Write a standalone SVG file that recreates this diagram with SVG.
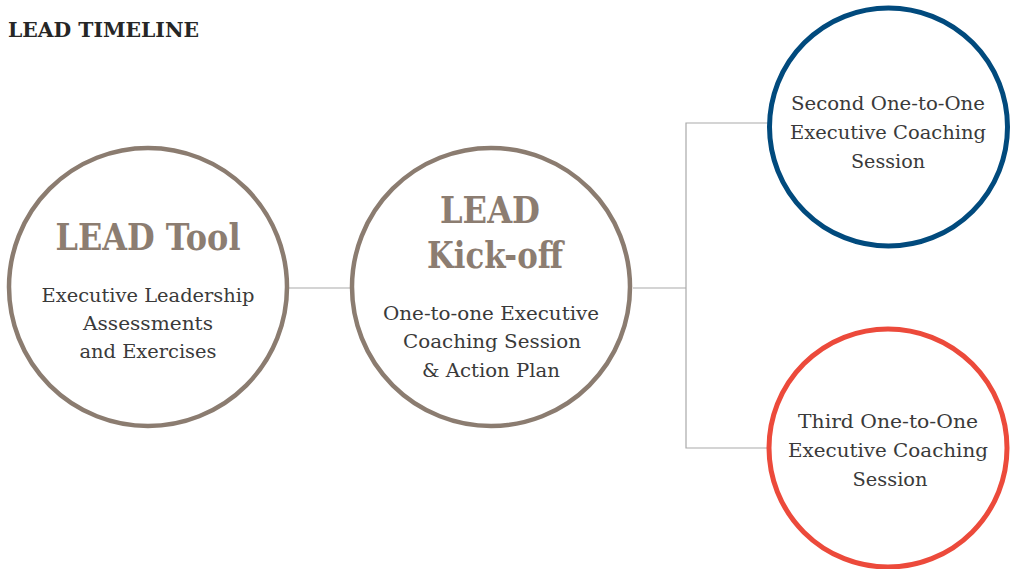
<svg xmlns="http://www.w3.org/2000/svg" width="1014" height="569" viewBox="0 0 1014 569">
  <style>
    .ring { fill: #ffffff; stroke-width: 4.5; }
    .brown { stroke: #8b7c70; }
    .blue { stroke: #014a7d; stroke-width: 5; }
    .red { stroke: #ec4a3b; stroke-width: 5; }
    .wire { fill: none; stroke: #a9a9a9; stroke-width: 1.2; }
    .head { font-family: "DejaVu Serif", "Liberation Serif", serif; font-weight: bold; font-size: 37px; fill: #8c7d71; text-anchor: middle; }
    .body { font-family: "DejaVu Serif", "Liberation Serif", serif; font-size: 18px; fill: #3a3a3a; text-anchor: middle; }
    .title { font-family: "DejaVu Serif", "Liberation Serif", serif; font-weight: bold; font-size: 20.5px; fill: #262626; }
  </style>

  <rect width="1014" height="569" fill="#ffffff"/>

  <text class="title" x="8" y="37" textLength="191" lengthAdjust="spacingAndGlyphs">LEAD TIMELINE</text>

  <!-- connectors -->
  <g id="connectors">
    <line class="wire" x1="289" y1="288" x2="350" y2="288"/>
    <line class="wire" x1="633" y1="288" x2="686" y2="288"/>
    <polyline class="wire" points="768,123 686,123 686,448 768,448"/>
  </g>

  <g id="lead-tool">
    <circle class="ring brown" cx="148" cy="287" r="139"/>
    <text class="head" x="148" y="250" textLength="185" lengthAdjust="spacingAndGlyphs">LEAD Tool</text>
    <text class="body" x="148" y="302" textLength="213" lengthAdjust="spacingAndGlyphs">Executive Leadership</text>
    <text class="body" x="148" y="330" textLength="130" lengthAdjust="spacingAndGlyphs">Assessments</text>
    <text class="body" x="148" y="358" textLength="137" lengthAdjust="spacingAndGlyphs">and Exercises</text>
  </g>

  <g id="lead-kickoff">
    <circle class="ring brown" cx="491" cy="287" r="139"/>
    <text class="head" x="490" y="223" textLength="100" lengthAdjust="spacingAndGlyphs">LEAD</text>
    <text class="head" x="495" y="268" textLength="136" lengthAdjust="spacingAndGlyphs">Kick-off</text>
    <text class="body" x="491" y="320" textLength="216" lengthAdjust="spacingAndGlyphs">One-to-one Executive</text>
    <text class="body" x="492" y="348" textLength="178" lengthAdjust="spacingAndGlyphs">Coaching Session</text>
    <text class="body" x="491" y="377" textLength="138" lengthAdjust="spacingAndGlyphs">&amp; Action Plan</text>
  </g>

  <g id="second-session">
    <circle class="ring blue" cx="888.5" cy="127" r="119"/>
    <text class="body" x="888" y="110" textLength="194" lengthAdjust="spacingAndGlyphs">Second One-to-One</text>
    <text class="body" x="888" y="139" textLength="196" lengthAdjust="spacingAndGlyphs">Executive Coaching</text>
    <text class="body" x="888" y="168" textLength="74" lengthAdjust="spacingAndGlyphs">Session</text>
  </g>

  <g id="third-session">
    <circle class="ring red" cx="888" cy="448" r="119"/>
    <text class="body" x="888" y="428" textLength="180" lengthAdjust="spacingAndGlyphs">Third One-to-One</text>
    <text class="body" x="888" y="457" textLength="200" lengthAdjust="spacingAndGlyphs">Executive Coaching</text>
    <text class="body" x="890" y="486" textLength="75" lengthAdjust="spacingAndGlyphs">Session</text>
  </g>
</svg>
